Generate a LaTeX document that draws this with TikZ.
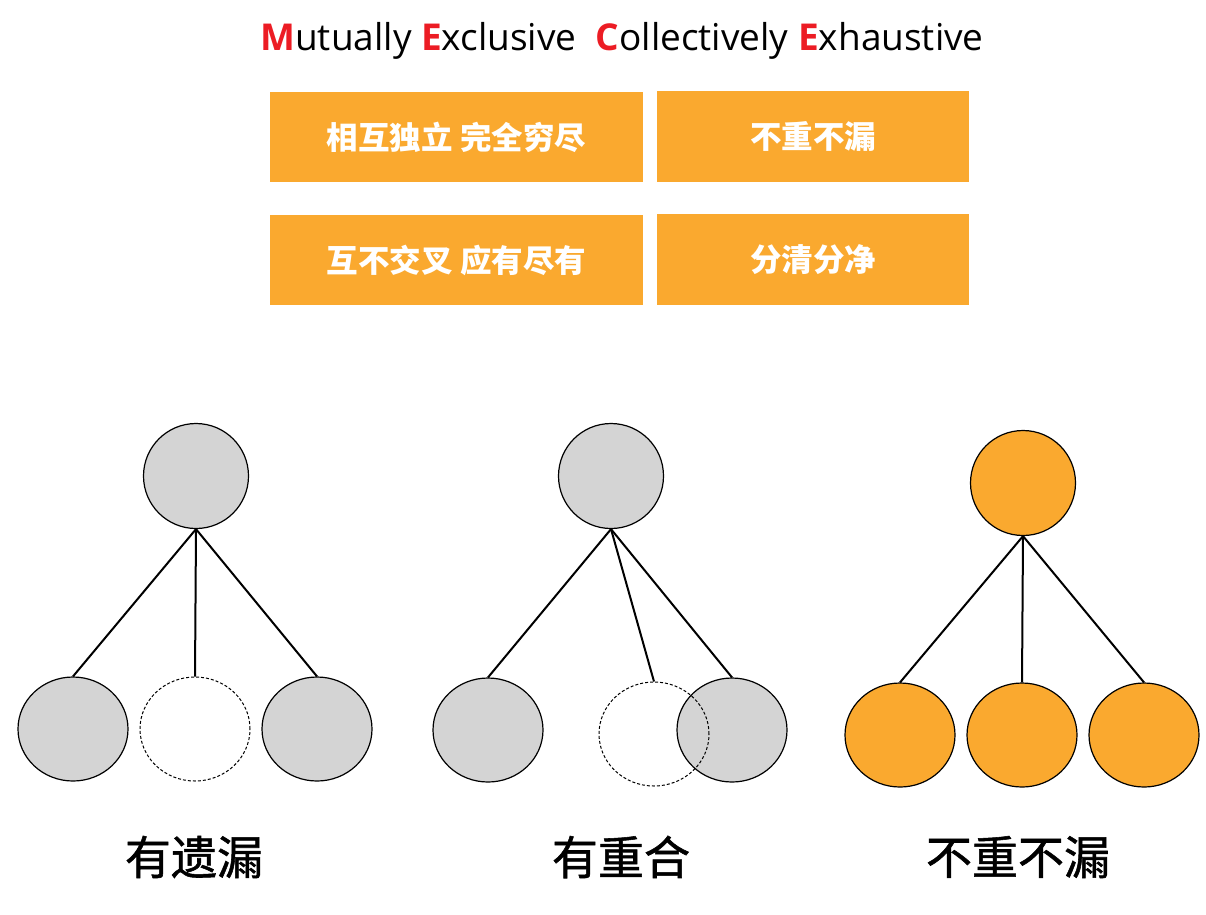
\documentclass[tikz,border=0pt]{standalone}
\usepackage{fontspec}
\setmainfont{Open Sans}
\newfontfamily\cjk{Noto Sans CJK SC}
\newfontfamily\cjkm{Noto Sans CJK SC}[FakeBold=1.2]
\usetikzlibrary{shapes.geometric}
\definecolor{mOrange}{HTML}{FAA92F}
\definecolor{mGrey}{HTML}{D4D4D4}
\definecolor{mRed}{HTML}{EC1C24}
\newcommand{\redcap}[1]{\textcolor{mRed}{\textbf{#1}}}
\tikzset{
  obox/.style={rectangle, fill=mOrange, inner sep=0pt, text=white,
    font=\cjk\bfseries\fontsize{31.5}{31.5}\selectfont},
  circ/.style={ellipse, draw=black, line width=1.2pt, inner sep=0pt,
    minimum width=110pt, minimum height=104pt},
  topc/.style={circ, minimum width=105pt, minimum height=105pt},
  greyc/.style={fill=mGrey},
  orangec/.style={fill=mOrange},
  dashc/.style={circ, dash pattern=on 3pt off 2pt, line width=1pt},
  link/.style={line width=2pt, black},
  lbl/.style={font=\cjkm\fontsize{46}{46}\selectfont, inner sep=0pt},
}
\begin{document}
\begin{tikzpicture}[x=1pt, y=-1pt]
\useasboundingbox (0,0) rectangle (1206,914);
% title
\node[inner sep=0pt, font=\fontsize{37}{37}\selectfont] (title) at (622,41)
  {\redcap{M}utually \redcap{E}xclusive\ \ \redcap{C}ollectively \redcap{E}xhaustive};
% boxes
\node[obox, minimum width=373pt, minimum height=90pt] (b1) at (456.5,137) {相互独立 完全穷尽};
\node[obox, minimum width=312pt, minimum height=91pt] (b2) at (813,136.5) {不重不漏};
\node[obox, minimum width=373pt, minimum height=90pt] (b3) at (456.5,260) {互不交叉 应有尽有};
\node[obox, minimum width=312pt, minimum height=91pt] (b4) at (813,259.5) {分清分净};
% group 1
\node[topc, greyc] (g1t) at (196,476) {};
\node[circ, greyc] (g1a) at (73,729) {};
\node[dashc] (g1b) at (195,729) {};
\node[circ, greyc] (g1c) at (317,729) {};
\draw[link] (g1t.south) -- (g1a.north);
\draw[link] (g1t.south) -- (g1b.north);
\draw[link] (g1t.south) -- (g1c.north);
% group 2
\node[topc, greyc] (g2t) at (611,476) {};
\node[circ, greyc] (g2a) at (488,730) {};
\node[circ, greyc] (g2c) at (732,730) {};
\node[dashc] (g2b) at (654,734) {};
\draw[link] (g2t.south) -- (g2a.north);
\draw[link] (g2t.south) -- (g2b.north);
\draw[link] (g2t.south) -- (g2c.north);
% group 3
\node[topc, orangec] (g3t) at (1023,483) {};
\node[circ, orangec] (g3a) at (900,735) {};
\node[circ, orangec] (g3b) at (1022,735) {};
\node[circ, orangec] (g3c) at (1144,735) {};
\draw[link] (g3t.south) -- (g3a.north);
\draw[link] (g3t.south) -- (g3b.north);
\draw[link] (g3t.south) -- (g3c.north);
% labels
\node[lbl] (l1) at (194,857) {有遗漏};
\node[lbl] (l2) at (621,857) {有重合};
\node[lbl] (l3) at (1018,857) {不重不漏};
\end{tikzpicture}
\end{document}
